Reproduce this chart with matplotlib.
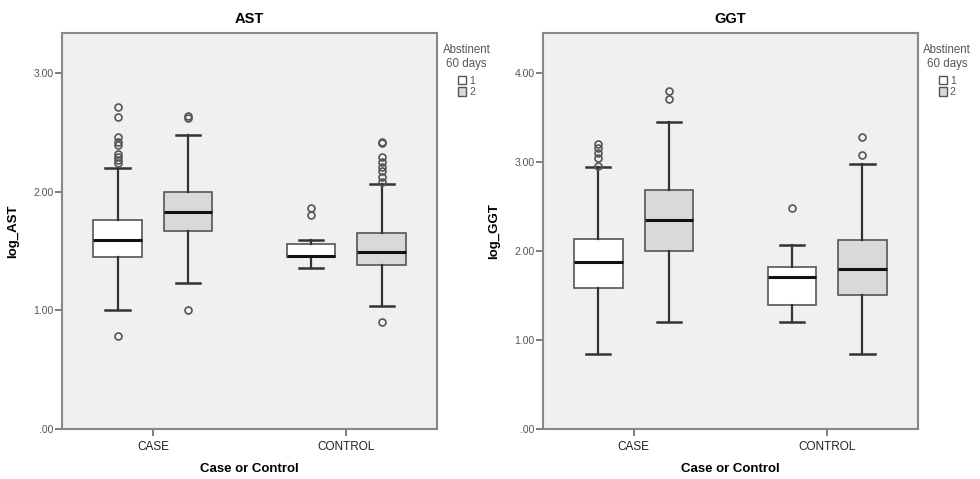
import matplotlib.pyplot as plt
from matplotlib.patches import Patch

plt.rcParams['font.family'] = ['Liberation Sans', 'DejaVu Sans']

groups = ["CASE", "CONTROL"]
abstinent = ["1", "2"]

# AST: CASE-1, CASE-2, CONTROL-1, CONTROL-2
ast_q1 = [1.45, 1.67, 1.45, 1.38]
ast_med = [1.59, 1.83, 1.46, 1.49]
ast_q3 = [1.76, 2.00, 1.56, 1.65]
ast_lo = [1.00, 1.23, 1.36, 1.04]
ast_hi = [2.20, 2.48, 1.59, 2.06]
ast_fliers = [
    [0.78, 2.24, 2.27, 2.29, 2.32, 2.39, 2.42, 2.46, 2.63, 2.71],
    [1.00, 2.62, 2.64],
    [1.80, 1.86],
    [0.90, 2.08, 2.12, 2.17, 2.21, 2.25, 2.29, 2.41, 2.42],
]

# GGT
ggt_q1 = [1.58, 2.00, 1.39, 1.51]
ggt_med = [1.88, 2.35, 1.71, 1.80]
ggt_q3 = [2.13, 2.69, 1.82, 2.12]
ggt_lo = [0.84, 1.20, 1.20, 0.84]
ggt_hi = [2.94, 3.45, 2.07, 2.98]
ggt_fliers = [
    [2.96, 3.05, 3.10, 3.16, 3.20],
    [3.71, 3.80],
    [2.48],
    [3.08, 3.28],
]

fig = plt.figure(figsize=(9.8, 4.79), dpi=100)
fig.patch.set_facecolor('white')

positions = [0.817, 1.183, 1.817, 2.183]
faces = ['white', '#d9d9d9', 'white', '#d9d9d9']


def draw(ax, title, ylabel, q1, med, q3, lo, hi, fliers, ymax, yticks):
    stats = []
    for i in range(4):
        stats.append(dict(q1=q1[i], med=med[i], q3=q3[i], whislo=lo[i],
                          whishi=hi[i], fliers=fliers[i]))
    bp = ax.bxp(stats, positions=positions, widths=0.25, capwidths=0.125,
                patch_artist=True, showfliers=True,
                boxprops=dict(edgecolor='#555555', linewidth=1.2),
                medianprops=dict(color='#111111', linewidth=2.2),
                whiskerprops=dict(color='#333333', linewidth=1.6),
                capprops=dict(color='#333333', linewidth=1.8),
                flierprops=dict(marker='o', markersize=5, markerfacecolor='none',
                                markeredgecolor='#555555', markeredgewidth=1.2))
    for patch, fc in zip(bp['boxes'], faces):
        patch.set_facecolor(fc)
    ax.set_facecolor('#f0f0f0')
    ax.set_xlim(0.53, 2.47)
    ax.set_ylim(0, ymax)
    ax.set_xticks([1, 2])
    ax.set_xticklabels(groups, fontsize=8.5, color='#222222')
    ax.set_yticks(yticks)
    ax.set_yticklabels(['.00' if t == 0 else '%.2f' % t for t in yticks],
                       fontsize=7.5, color='#555555')
    ax.tick_params(axis='both', direction='out', length=5, color='#666666', width=1.2)
    ax.tick_params(axis='x', pad=4)
    ax.tick_params(axis='y', pad=1)
    for s in ax.spines.values():
        s.set_color('#888888')
        s.set_linewidth(1.5)
    ax.set_title(title, fontsize=10.5, fontweight='bold', pad=7)
    ax.set_ylabel(ylabel, fontsize=9.5, fontweight='bold', labelpad=10)
    ax.set_xlabel('Case or Control', fontsize=9.5, fontweight='bold', labelpad=7)
    handles = [Patch(facecolor=f, edgecolor='#555555', label=a)
               for f, a in zip(['white', '#d9d9d9'], abstinent)]
    leg = ax.legend(handles=handles, title='Abstinent\n60 days', loc='upper left',
                    bbox_to_anchor=(0.995, 0.99), frameon=False, fontsize=7.5,
                    title_fontsize=8.3, handlelength=0.8, handleheight=0.9,
                    handletextpad=0.25, labelspacing=0.15, borderaxespad=0.3)
    leg.get_title().set_color('#555555')
    leg.get_title().set_multialignment('center')
    leg._legend_box.sep = 4
    for t in leg.get_texts():
        t.set_color('#555555')


ax1 = fig.add_axes([0.0633, 0.1044, 0.3827, 0.8267])
draw(ax1, 'AST', 'log_AST', ast_q1, ast_med, ast_q3, ast_lo, ast_hi, ast_fliers,
     3.336, [0, 1, 2, 3])

ax2 = fig.add_axes([0.554, 0.1044, 0.3827, 0.8267])
draw(ax2, 'GGT', 'log_GGT', ggt_q1, ggt_med, ggt_q3, ggt_lo, ggt_hi, ggt_fliers,
     4.45, [0, 1, 2, 3, 4])

fig.savefig('out.png', dpi=100)
